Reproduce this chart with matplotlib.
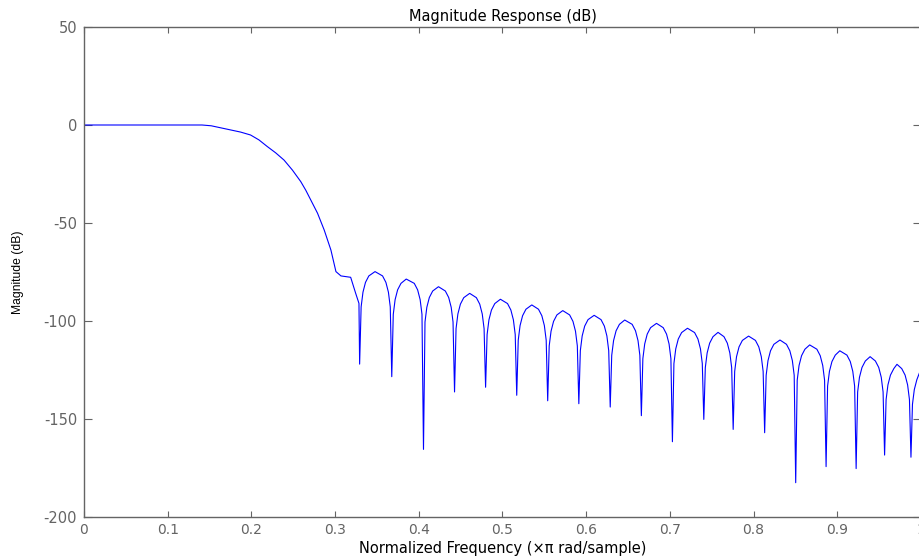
import matplotlib
matplotlib.use("Agg")
import matplotlib.pyplot as plt
import numpy as np

# Passband and transition band (normalized freq, dB)
transition_freq = [0.0, 0.141, 0.152, 0.163, 0.175, 0.187, 0.199, 0.209, 0.219,
                   0.229, 0.239, 0.249, 0.259, 0.265, 0.271, 0.279, 0.287,
                   0.295, 0.301, 0.307, 0.3186, 0.3246, 0.3285]
transition_db = [0.0, 0.0, -0.4, -1.4, -2.5, -3.6, -5.1, -7.6, -11.0,
                 -14.2, -17.9, -23.0, -28.9, -33.3, -38.3, -45.0, -53.6,
                 -63.8, -74.8, -77.0, -77.7, -85.9, -91.0]

# Stopband: side lobes and the nulls between them
stopband_freq = [
    0.3293,
    0.3311, 0.3333, 0.3363, 0.3403, 0.3477, 0.3567, 0.3607, 0.3637, 0.3659, 0.3677,
    0.3695, 0.3717, 0.3747, 0.3787, 0.3850, 0.3946, 0.3986, 0.4016, 0.4038, 0.4056,
    0.4074, 0.4096, 0.4126, 0.4166, 0.4235, 0.4317, 0.4357, 0.4387, 0.4409, 0.4427,
    0.4445, 0.4467, 0.4497, 0.4537, 0.4608, 0.4688, 0.4728, 0.4758, 0.4780, 0.4798,
    0.4816, 0.4838, 0.4868, 0.4908, 0.4975, 0.5060, 0.5100, 0.5130, 0.5152, 0.5170,
    0.5188, 0.5210, 0.5240, 0.5280, 0.5350, 0.5430, 0.5470, 0.5500, 0.5522, 0.5540,
    0.5558, 0.5580, 0.5610, 0.5650, 0.5720, 0.5802, 0.5842, 0.5872, 0.5894, 0.5912,
    0.5930, 0.5952, 0.5982, 0.6022, 0.6095, 0.6177, 0.6217, 0.6247, 0.6269, 0.6287,
    0.6305, 0.6327, 0.6357, 0.6397, 0.6460, 0.6549, 0.6589, 0.6619, 0.6641, 0.6659,
    0.6677, 0.6699, 0.6729, 0.6769, 0.6840, 0.6920, 0.6960, 0.6990, 0.7012, 0.7030,
    0.7048, 0.7070, 0.7100, 0.7140, 0.7210, 0.7295, 0.7335, 0.7365, 0.7387, 0.7405,
    0.7423, 0.7445, 0.7475, 0.7515, 0.7575, 0.7646, 0.7686, 0.7716, 0.7738, 0.7756,
    0.7774, 0.7796, 0.7826, 0.7866, 0.7940, 0.8022, 0.8062, 0.8092, 0.8114, 0.8132,
    0.8150, 0.8172, 0.8202, 0.8242, 0.8315, 0.8393, 0.8433, 0.8463, 0.8485, 0.8503,
    0.8521, 0.8543, 0.8573, 0.8613, 0.8670, 0.8756, 0.8796, 0.8826, 0.8848, 0.8866,
    0.8884, 0.8906, 0.8936, 0.8976, 0.9030, 0.9115, 0.9155, 0.9185, 0.9207, 0.9225,
    0.9243, 0.9265, 0.9295, 0.9335, 0.9392, 0.9455, 0.9495, 0.9525, 0.9547, 0.9565,
    0.9583, 0.9605, 0.9635, 0.9675, 0.9713, 0.9770, 0.9810, 0.9840, 0.9862, 0.9880,
    0.9898, 0.9920, 0.9950, 0.9990, 1.0000,
]
stopband_db = [
    -122.0,
    -92.8, -85.3, -80.3, -77.0, -74.8, -77.0, -80.3, -85.3, -92.8, -128.4,
    -96.6, -89.1, -84.1, -80.8, -78.6, -80.8, -84.1, -89.1, -96.6, -165.5,
    -100.5, -93.0, -88.0, -84.7, -82.5, -84.7, -88.0, -93.0, -100.5, -136.2,
    -103.9, -96.4, -91.4, -88.1, -85.9, -88.1, -91.4, -96.4, -103.9, -133.8,
    -106.9, -99.4, -94.4, -91.1, -88.9, -91.1, -94.4, -99.4, -106.9, -137.9,
    -109.8, -102.3, -97.3, -94.0, -91.8, -94.0, -97.3, -102.3, -109.8, -140.7,
    -112.7, -105.2, -100.2, -96.9, -94.7, -96.9, -100.2, -105.2, -112.7, -142.2,
    -115.1, -107.6, -102.6, -99.3, -97.1, -99.3, -102.6, -107.6, -115.1, -143.9,
    -117.5, -110.0, -105.0, -101.7, -99.5, -101.7, -105.0, -110.0, -117.5, -148.3,
    -119.2, -111.7, -106.7, -103.4, -101.2, -103.4, -106.7, -111.7, -119.2, -161.6,
    -121.7, -114.2, -109.2, -105.9, -103.7, -105.9, -109.2, -114.2, -121.7, -150.2,
    -123.8, -116.3, -111.3, -108.0, -105.8, -108.0, -111.3, -116.3, -123.8, -155.3,
    -125.7, -118.2, -113.2, -109.9, -107.7, -109.9, -113.2, -118.2, -125.7, -157.0,
    -127.7, -120.2, -115.2, -111.9, -109.7, -111.9, -115.2, -120.2, -127.7, -182.5,
    -130.2, -122.7, -117.7, -114.4, -112.2, -114.4, -117.7, -122.7, -130.2, -174.3,
    -133.2, -125.7, -120.7, -117.4, -115.2, -117.4, -120.7, -125.7, -133.2, -175.3,
    -136.2, -128.7, -123.7, -120.4, -118.2, -120.4, -123.7, -128.7, -136.2, -168.4,
    -140.1, -132.6, -127.6, -124.3, -122.1, -124.3, -127.6, -132.6, -140.1, -169.5,
    -142.5, -135.0, -130.0, -125.5, -124.5,
]

x_ticks = [0, 0.1, 0.2, 0.3, 0.4, 0.5, 0.6, 0.7, 0.8, 0.9, 1]
x_tick_labels = ["0", "0.1", "0.2", "0.3", "0.4", "0.5", "0.6", "0.7", "0.8", "0.9", "1"]
y_ticks = [-200, -150, -100, -50, 0, 50]

freq = np.concatenate([transition_freq, stopband_freq])
mag_db = np.concatenate([transition_db, stopband_db])

plt.rcParams["font.family"] = ["DejaVu Sans"]
plt.rcParams["axes.unicode_minus"] = False
grey = "#646464"

fig = plt.figure(figsize=(9.2, 5.56), dpi=100)
ax = fig.add_axes([84 / 920, 1 - 517 / 556, 837 / 920, 490 / 556])

ax.plot(freq, mag_db, color="#0000ff", linewidth=0.8)

ax.set_xlim(0, 1)
ax.set_ylim(-200, 50)
ax.set_xticks(x_ticks)
ax.set_xticklabels(x_tick_labels)
ax.set_yticks(y_ticks)

for spine in ax.spines.values():
    spine.set_color(grey)
    spine.set_linewidth(1.0)

ax.tick_params(axis="x", direction="in", top=True, bottom=True, length=4,
               width=0.8, color=grey, labelcolor=grey, labelsize=10, pad=4)
ax.tick_params(axis="y", direction="in", left=True, right=True, length=6,
               width=0.8, color=grey, labelcolor=grey, labelsize=10.5, pad=5)

ax.set_title("Magnitude Response (dB)", fontsize=10.5, color="black", pad=4)
ax.set_xlabel("Normalized Frequency (\u00d7\u03c0 rad/sample)", fontsize=10.5,
              color="black", labelpad=3)
ax.set_ylabel("Magnitude (dB)", fontsize=8.7, color="black",
              family=["Liberation Sans", "DejaVu Sans"], labelpad=14)

fig.savefig("out.png", dpi=100)
